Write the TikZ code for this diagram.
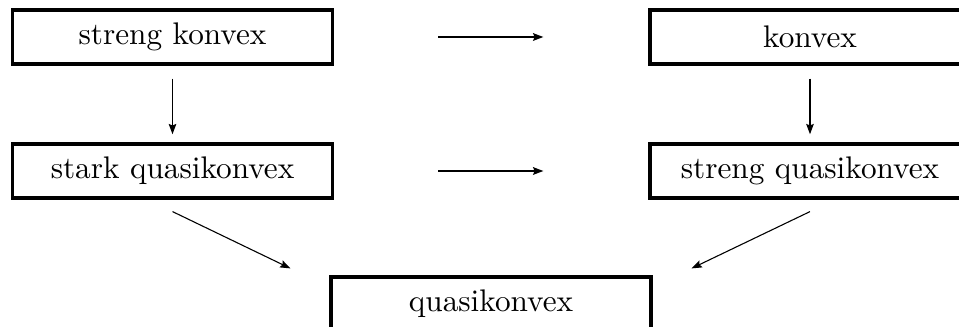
\documentclass[tikz,border=0pt]{standalone}
\usetikzlibrary{arrows.meta,calc}
\begin{document}
\begin{tikzpicture}[x=0.32pt,y=-0.32pt,
  box/.style={draw, line width=1pt, minimum width=102.4pt, minimum height=17.3pt,
    inner sep=0pt, font=\fontsize{10}{12}\selectfont},
  tip/.style={-{Stealth[length=3.3pt,width=2.4pt,inset=0.5pt]}},
  heavy/.style={tip, line width=0.75pt},
  medium/.style={tip, line width=0.5pt},
  light/.style={tip, line width=0.35pt}]
  \useasboundingbox (0,0) rectangle (959,327);
  \clip (0,0) rectangle (959,327);

  % the five notions of convexity
  \node[box] (sk)  at (172.5,37)  {streng konvex};
  \node[box] (k)   at (810,37)    {konvex};
  \node[box] (sq)  at (172.5,171) {stark quasikonvex};
  \node[box] (sgq) at (810,171)   {streng quasikonvex};
  \node[box] (q)   at (491,304)   {quasikonvex};

  % implications
  \draw[heavy, shorten <=33.3pt, shorten >=33.6pt] (sk.east) -- (k.west);
  \draw[heavy, shorten <=33.3pt, shorten >=33.6pt] (sq.east) -- (sgq.west);
  \draw[medium, shorten <=4.2pt, shorten >=2.6pt] (sk.south) -- (sq.north);
  \draw[medium, shorten <=4.2pt, shorten >=2.6pt] (k.south) -- (sgq.north);
  \draw[light] ($(sq.south)+(0,12)$) -- ($(q.north west)+(-39,-7)$);
  \draw[light] ($(sgq.south)+(0,12)$) -- ($(q.north east)+(39,-7)$);
\end{tikzpicture}
\end{document}
